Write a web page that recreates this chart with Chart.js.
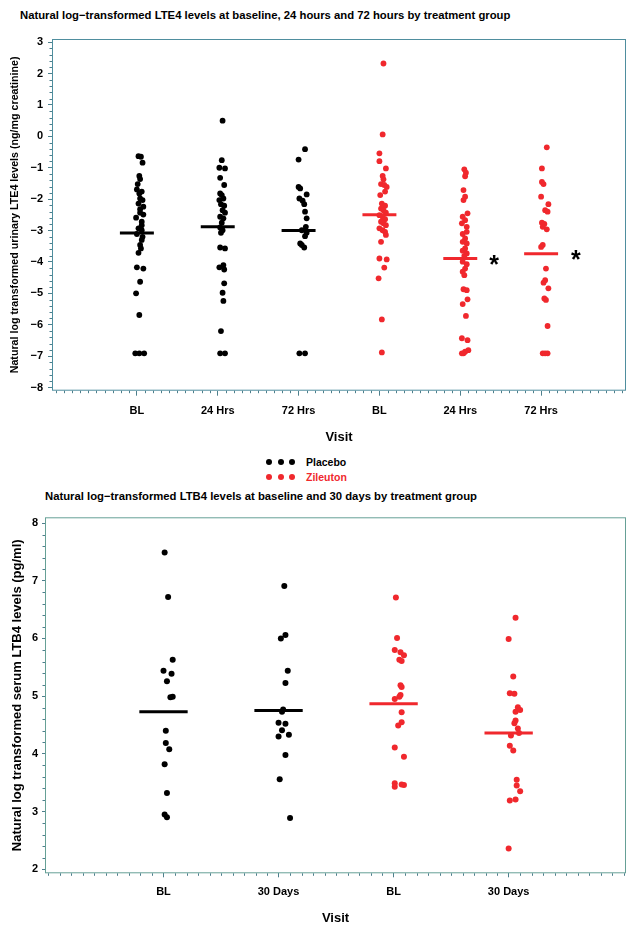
<!DOCTYPE html>
<html>
<head>
<meta charset="utf-8">
<title>LTE4 / LTB4 by treatment group</title>
<script src="https://cdn.jsdelivr.net/npm/chart.js@4.4.1/dist/chart.umd.min.js"></script>
<style>
  body{margin:0;background:#fff;font-family:"Liberation Sans",Arial,sans-serif;}
  .wrap{position:relative;width:635px;height:932px;overflow:hidden;}
  canvas{position:absolute;left:0;}
  .ttl{position:absolute;font-weight:bold;font-size:11.3px;line-height:14px;white-space:nowrap;color:#000;}
  .row{position:absolute;left:266px;height:15px;display:flex;align-items:center;font-weight:bold;font-size:10.5px;}
  .dot{display:inline-block;width:6px;height:6px;border-radius:50%;margin-right:5.5px;}
  .dot.last{margin-right:11px;}
</style>
</head>
<body>
<div class="wrap">
  <div class="ttl" style="left:20px;top:8px">Natural log&#8722;transformed LTE4 levels at baseline, 24 hours and 72 hours by treatment group</div>
  <canvas id="lte4" width="635" height="450" style="top:0"></canvas>
  <div class="row" style="top:454.5px"><span class="dot" style="background:#000"></span><span class="dot" style="background:#000"></span><span class="dot last" style="background:#000"></span><span>Placebo</span></div>
  <div class="row" style="top:469.5px;color:#f0282d"><span class="dot" style="background:#f0282d"></span><span class="dot" style="background:#f0282d"></span><span class="dot last" style="background:#f0282d"></span><span>Zileuton</span></div>
  <div class="ttl" style="left:45px;top:489px">Natural log&#8722;transformed LTB4 levels at baseline and 30 days by treatment group</div>
  <canvas id="ltb4" width="635" height="427" style="top:505px"></canvas>
</div>
<script>
// ---- LTE4 (top chart) ----
const lte4Visits = ['BL', '24 Hrs', '72 Hrs', 'BL', '24 Hrs', '72 Hrs'];

const plaBL = [-0.63,-0.65,-0.84,-1.26,-1.36,-1.52,-1.69,-1.76,-1.82,-1.98,-2.03,-2.14,-2.24,-2.32,-2.43,-2.49,-2.59,-2.72,-2.83,-2.93,-2.99,-3.11,-3.20,-3.30,-3.46,-3.57,-3.71,-4.17,-4.21,-4.63,-5.00,-5.69,-6.91,-6.91,-6.91];
const plaBLJit = [0.02,0.05,0.07,0.03,0.04,0.01,0.0,0.06,0.03,0.04,0.07,0.02,0.08,0.04,0.04,0.08,-0.01,0.06,0.06,0.02,0.06,0.0,0.07,0.06,0.04,0.05,0.02,0.0,0.08,0.04,-0.01,0.03,-0.02,0.03,0.09];
const pla24 = [0.50,-0.76,-1.00,-1.02,-1.32,-1.55,-1.82,-1.87,-1.98,-2.03,-2.16,-2.21,-2.35,-2.43,-2.56,-2.61,-2.75,-2.90,-2.99,-3.07,-3.54,-3.57,-4.10,-4.17,-4.24,-4.68,-4.98,-5.24,-6.20,-6.91,-6.91];
const pla24Jit = [0.06,0.05,0.02,0.09,0.03,0.08,0.03,0.05,0.07,0.02,0.04,0.08,0.06,0.09,0.03,0.07,0.05,0.03,0.06,0.04,0.03,0.09,0.07,0.02,0.08,0.08,0.06,0.07,0.04,0.03,0.09];
const pla72 = [-0.41,-0.74,-1.61,-1.66,-1.85,-1.98,-2.05,-2.16,-2.40,-2.61,-2.88,-2.99,-3.07,-3.18,-3.41,-3.46,-3.54,-6.91,-6.91];
const pla72Jit = [0.08,0.0,0.0,0.02,0.1,0.01,0.05,0.07,0.08,0.1,0.09,0.04,0.1,0.08,0.02,0.04,0.07,0.01,0.08];

const zilBL = [2.32,0.06,-0.54,-0.79,-1.02,-1.26,-1.37,-1.52,-1.55,-1.61,-1.76,-1.87,-2.14,-2.21,-2.30,-2.35,-2.43,-2.51,-2.56,-2.64,-2.72,-2.77,-2.83,-2.93,-2.99,-3.04,-3.14,-3.36,-3.89,-3.92,-4.18,-4.52,-5.83,-6.88];
const zilBLJit = [0.05,0.04,0.0,0.0,0.08,0.04,0.05,0.02,0.06,0.09,0.07,0.01,0.03,0.07,0.02,0.05,0.08,0.0,0.04,0.07,0.02,0.05,0.08,0.0,0.04,0.07,0.08,0.02,0.0,0.09,0.06,-0.01,0.03,0.03];
const zil24 = [-1.05,-1.16,-1.27,-1.71,-1.92,-2.03,-2.45,-2.56,-2.67,-2.77,-2.88,-3.04,-3.11,-3.25,-3.36,-3.41,-3.57,-3.64,-3.73,-3.81,-3.99,-4.07,-4.21,-4.31,-4.42,-4.87,-4.90,-5.19,-5.34,-5.72,-6.43,-6.49,-6.81,-6.86,-6.91,-6.91];
const zil24Jit = [0.05,0.07,0.06,0.04,0.06,0.04,0.09,0.03,0.06,0.02,0.08,0.08,0.03,0.06,0.03,0.08,0.06,0.03,0.08,0.05,0.03,0.08,0.06,0.03,0.05,0.04,0.08,0.09,0.03,0.07,0.02,0.09,0.1,0.06,0.02,0.04];
const zil72 = [-0.35,-1.02,-1.45,-1.52,-1.92,-2.16,-2.35,-2.40,-2.75,-2.79,-2.88,-2.96,-3.46,-3.52,-4.21,-4.58,-4.66,-4.84,-5.16,-5.21,-6.04,-6.91,-6.91,-6.91];
const zil72Jit = [0.07,0.01,0.01,0.03,0.0,0.09,0.05,0.08,0.01,0.04,0.02,0.07,0.02,0.0,0.06,0.05,0.03,0.09,0.04,0.06,0.08,0.02,0.05,0.08];

const lte4PlaMeans = [-3.08, -2.88, -3.00];
const lte4ZilMeans = [-2.50, -3.89, -3.74];
const lte4StarX = [4.42, 5.43];
const lte4StarY = [-3.89, -3.74];

// ---- LTB4 (bottom chart) ----
const ltb4Visits = ['BL', '30 Days', 'BL', '30 Days'];

const bPlaBL = [7.49,6.72,5.63,5.44,5.39,5.26,4.98,4.99,4.40,4.19,4.08,3.82,3.32,2.95,2.90];
const bPlaBLJit = [0.01,0.04,0.08,0.0,0.07,0.03,0.06,0.08,0.02,0.02,0.05,0.01,0.03,0.01,0.03];
const bPla30 = [6.91,6.06,6.00,5.44,5.23,4.77,4.73,4.54,4.52,4.41,4.33,4.30,3.98,3.56,2.89];
const bPla30Jit = [0.05,0.06,0.02,0.08,0.06,0.04,0.03,0.0,0.06,0.03,0.09,0.0,0.06,0.01,0.1];
const bZilBL = [6.71,6.01,5.80,5.76,5.71,5.63,5.61,5.19,5.16,5.02,4.99,4.95,4.72,4.55,4.49,4.11,3.95,3.49,3.46,3.43,3.47];
const bZilBLJit = [0.02,0.03,0.01,0.06,0.09,0.05,0.07,0.06,0.07,0.06,0.05,0.01,0.07,0.07,0.04,0.01,0.09,0.01,0.09,0.01,0.07];
const bZil30 = [6.36,5.99,5.34,5.05,5.04,4.81,4.76,4.73,4.58,4.53,4.44,4.36,4.32,4.14,4.06,3.55,3.45,3.35,3.21,3.19,2.36];
const bZil30Jit = [0.06,0.0,0.04,0.01,0.05,0.08,0.1,0.06,0.06,0.05,0.08,0.09,0.02,0.01,0.04,0.07,0.07,0.1,0.06,0.01,0.0];

const ltb4PlaMeans = [4.73, 4.75];
const ltb4ZilMeans = [4.87, 4.36];

const BLACK = '#000000';
const RED = '#f0282d';
const FONT = '"Liberation Sans", Arial, sans-serif';

function pts(idx, vals, jit) {
    return vals.map((v, i) => ({x: idx + jit[i], y: v}));
}

function meanLine(idx, m, color) {
    return {
        type: 'line',
        data: [{x: idx - 0.21, y: m}, {x: idx + 0.21, y: m}],
        borderColor: color,
        borderWidth: 3,
        pointRadius: 0,
        showLine: true
    };
}

function dots(data, color, r) {
    return {
        type: 'scatter',
        data: data,
        backgroundColor: color,
        borderColor: color,
        borderWidth: 0,
        pointRadius: r
    };
}

const frame = {
    id: 'frame',
    afterDatasetsDraw(chart, args, o) {
        const {ctx, chartArea: a, scales: {x, y}} = chart;
        ctx.save();
        ctx.strokeStyle = o.color;
        ctx.lineWidth = 1;
        ctx.strokeRect(a.left + 0.5, a.top + 0.5, a.right - a.left - 1, a.bottom - a.top - 1);

        // minor ticks
        ctx.strokeStyle = o.tickColor;
        ctx.beginPath();
        for (let k = Math.ceil(x.min * 10); k <= Math.floor(x.max * 10); k++) {
            if (k % 10 === 0 && k >= 0 && k / 10 < o.nCat) continue;
            const px = Math.round(x.getPixelForValue(k / 10)) + 0.5;
            ctx.moveTo(px, a.bottom);
            ctx.lineTo(px, a.bottom + 2.5);
        }
        for (let k = Math.ceil(y.min * 5); k <= Math.floor(y.max * 5); k++) {
            if (k % 5 === 0) continue;
            const py = Math.round(y.getPixelForValue(k / 5)) + 0.5;
            ctx.moveTo(a.left, py);
            ctx.lineTo(a.left - 2.5, py);
        }
        ctx.stroke();

        // significance marks
        if (o.starX) {
            ctx.fillStyle = '#000';
            ctx.font = 'bold 25px ' + FONT;
            ctx.textAlign = 'center';
            ctx.textBaseline = 'alphabetic';
            o.starX.forEach((sx, i) => {
                ctx.fillText('*', x.getPixelForValue(sx), y.getPixelForValue(o.starY[i]) + 14.5);
            });
        }
        ctx.restore();
    }
};

function makeChart(el, cfg) {
    const n = cfg.labels.length;
    return new Chart(document.getElementById(el), {
        data: {datasets: cfg.datasets},
        options: {
            responsive: false,
            animation: false,
            layout: {padding: {top: cfg.padTop, right: 9, left: 0, bottom: 0}},
            plugins: {
                legend: {display: false},
                tooltip: {enabled: false},
                frame: {color: cfg.frameColor, tickColor: '#4d7f8c', nCat: n, starX: cfg.starX, starY: cfg.starY}
            },
            scales: {
                x: {
                    type: 'linear',
                    min: cfg.xMin, max: cfg.xMax,
                    border: {display: false},
                    grid: {drawOnChartArea: false, tickLength: cfg.xTickLen, color: '#4d7f8c'},
                    afterBuildTicks: s => { s.ticks = s.ticks.filter(t => t.value >= 0 && t.value < n); },
                    afterFit: s => { s.height = cfg.xHeight; },
                    ticks: {
                        stepSize: 1, includeBounds: false, autoSkip: false, maxRotation: 0,
                        padding: cfg.xTickPad, color: '#000',
                        font: {family: FONT, size: 11, weight: 'bold'},
                        callback: v => cfg.labels[v] || ''
                    },
                    title: {
                        display: true, text: 'Visit', color: '#000',
                        font: {family: FONT, size: 13, weight: 'bold'},
                        padding: {top: 0, bottom: cfg.visitPad}
                    }
                },
                y: {
                    type: 'linear',
                    min: cfg.yMin, max: cfg.yMax,
                    border: {display: false},
                    grid: {drawOnChartArea: false, tickLength: cfg.yTickLen, color: '#4d7f8c'},
                    afterFit: s => { s.width = cfg.yWidth; },
                    ticks: {
                        stepSize: 1, includeBounds: false, autoSkip: false,
                        padding: cfg.yTickPad, color: '#000',
                        font: {family: FONT, size: 11, weight: 'bold'},
                        callback: v => String(v).replace('-', '\u2212')
                    },
                    title: {
                        display: true, text: cfg.yTitle, color: '#000',
                        font: {family: FONT, size: cfg.yTitleSize, weight: 'bold'},
                        padding: {top: cfg.yTitlePad, bottom: 0}
                    }
                }
            }
        },
        plugins: [frame]
    });
}

makeChart('lte4', {
    labels: lte4Visits,
    datasets: [
        dots(pts(0, plaBL, plaBLJit), BLACK, 2.9),
        dots(pts(1, pla24, pla24Jit), BLACK, 2.9),
        dots(pts(2, pla72, pla72Jit), BLACK, 2.9),
        dots(pts(3, zilBL, zilBLJit), RED, 2.9),
        dots(pts(4, zil24, zil24Jit), RED, 2.9),
        dots(pts(5, zil72, zil72Jit), RED, 2.9),
        ...lte4PlaMeans.map((m, i) => meanLine(i, m, BLACK)),
        ...lte4ZilMeans.map((m, i) => meanLine(i + 3, m, RED))
    ],
    xMin: -1.05, xMax: 6.05, yMin: -8.1, yMax: 3.1,
    padTop: 39, xHeight: 59.3, yWidth: 52,
    xTickLen: 5, xTickPad: 8.7, yTickLen: 4, yTickPad: 5,
    visitPad: 5.2,
    yTitle: 'Natural log transformed urinary LTE4 levels (ng/mg creatinine)',
    yTitleSize: 10.7, yTitlePad: 8.6,
    frameColor: '#4f8e9e',
    starX: lte4StarX, starY: lte4StarY
});

makeChart('ltb4', {
    labels: ltb4Visits,
    datasets: [
        dots(pts(0, bPlaBL, bPlaBLJit), BLACK, 3),
        dots(pts(1, bPla30, bPla30Jit), BLACK, 3),
        dots(pts(2, bZilBL, bZilBLJit), RED, 3),
        dots(pts(3, bZil30, bZil30Jit), RED, 3),
        ...ltb4PlaMeans.map((m, i) => meanLine(i, m, BLACK)),
        ...ltb4ZilMeans.map((m, i) => meanLine(i + 2, m, RED))
    ],
    xMin: -1.03, xMax: 4.02, yMin: 1.93, yMax: 8.1,
    padTop: 12.3, xHeight: 58.7, yWidth: 45,
    xTickLen: 4, xTickPad: 8, yTickLen: 3, yTickPad: 4,
    visitPad: 6.2,
    yTitle: 'Natural log transformed serum LTB4 levels (pg/ml)',
    yTitleSize: 13, yTitlePad: 9.2,
    frameColor: '#66a096'
});
</script>
</body>
</html>
